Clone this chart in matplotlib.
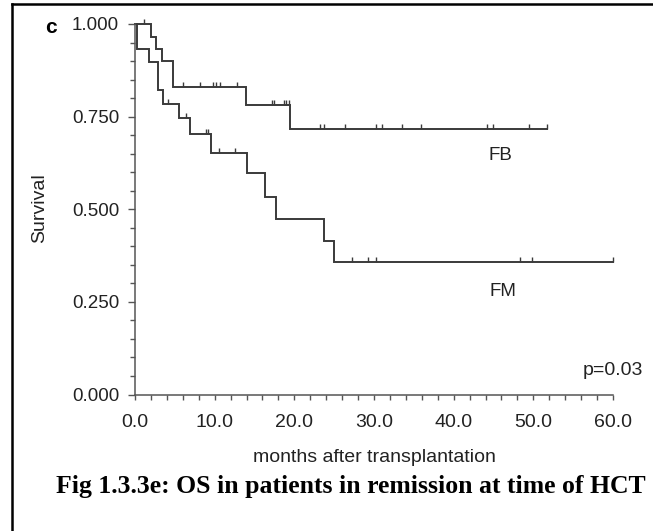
import numpy as np
import matplotlib
matplotlib.use("Agg")
import matplotlib.pyplot as plt
from matplotlib.lines import Line2D
from matplotlib.ticker import MultipleLocator, FixedLocator

# Kaplan-Meier step data: time of each drop (months) and survival after it
fb_times = [1.97, 2.64, 3.36, 4.74, 13.92, 19.41]
fb_surv = [0.964, 0.932, 0.900, 0.831, 0.781, 0.716]
fb_end = 51.7
fb_censored = [1.13, 6.08, 8.18, 9.85, 10.19, 10.69, 12.79, 17.17, 17.42,
               18.65, 18.99, 19.28, 23.18, 23.71, 26.33, 30.19, 31.03, 33.55,
               35.85, 44.24, 44.99, 49.47, 51.7]

fm_times = [0.31, 1.80, 2.93, 3.56, 5.57, 6.92, 9.52, 14.05, 16.26, 17.65,
            23.77, 24.94]
fm_surv = [0.932, 0.898, 0.822, 0.784, 0.745, 0.702, 0.653, 0.597, 0.534,
           0.474, 0.415, 0.358]
fm_end = 60.0
fm_censored = [4.19, 6.35, 8.93, 9.22, 10.6, 12.49, 27.26, 29.22, 30.19,
               48.34, 49.81, 60.0]

x_ticks = [0, 10, 20, 30, 40, 50, 60]
x_ticklabels = ["0.0", "10.0", "20.0", "30.0", "40.0", "50.0", "60.0"]
y_ticks = [0.0, 0.25, 0.5, 0.75, 1.0]
y_ticklabels = ["0.000", "0.250", "0.500", "0.750", "1.000"]

W, H = 653, 531
fig = plt.figure(figsize=(W / 100, H / 100), dpi=100)
fig.patch.set_facecolor("white")

sans = ["Liberation Sans", "DejaVu Sans"]
serif = ["Liberation Serif", "DejaVu Serif"]
ink = "#3a3a3a"
text_col = "#222222"


def px_axes(x0, y0, x1, y1):
    return [x0 / W, 1 - y1 / H, (x1 - x0) / W, (y1 - y0) / H]


ax = fig.add_axes(px_axes(135, 24, 613, 394.5))
ax.set_xlim(0, 60)
ax.set_ylim(0, 1.0)
ax.set_facecolor("none")
for side in ("top", "right"):
    ax.spines[side].set_visible(False)
for side in ("left", "bottom"):
    ax.spines[side].set_color("#555555")
    ax.spines[side].set_linewidth(1.1)

ax.xaxis.set_major_locator(FixedLocator(x_ticks))
ax.set_xticklabels(x_ticklabels)
ax.xaxis.set_minor_locator(MultipleLocator(2))
ax.yaxis.set_major_locator(FixedLocator(y_ticks))
ax.set_yticklabels(y_ticklabels)
ax.yaxis.set_minor_locator(MultipleLocator(0.05))
ax.tick_params(axis="both", which="both", direction="out", color="#555555",
               width=1.0, labelcolor=text_col)
ax.tick_params(axis="x", which="both", length=3.5, pad=10.4, labelsize=14)
ax.tick_params(axis="y", which="major", length=5, pad=6.5, labelsize=13.5)
ax.tick_params(axis="y", which="minor", length=3.5)
for lab in ax.get_xticklabels() + ax.get_yticklabels():
    lab.set_family(sans)


def km_curve(times, surv, end):
    xs = [0.0] + list(times) + [end]
    ys = [1.0] + list(surv) + [surv[-1]]
    return np.array(xs), np.array(ys)


def surv_at(times, surv, t):
    idx = np.searchsorted(np.array(times), np.array(t), side="right")
    vals = np.concatenate([[1.0], surv])
    return vals[idx]


tick_marker = [(0, 0), (0, 1)]
for times, surv, end, cens in ((fb_times, fb_surv, fb_end, fb_censored),
                               (fm_times, fm_surv, fm_end, fm_censored)):
    xs, ys = km_curve(times, surv, end)
    ax.step(xs, ys, where="post", color=ink, lw=1.4, solid_joinstyle="miter",
            clip_on=False)
    ax.plot(cens, surv_at(times, surv, cens), linestyle="none",
            marker=tick_marker, markersize=7, markeredgewidth=1.0,
            color=ink, clip_on=False)

ax.text(45.9, 0.646, "FB", fontsize=13.5, family=sans, color=text_col,
        ha="center", va="center")
ax.text(46.2, 0.279, "FM", fontsize=13.5, family=sans, color=text_col,
        ha="center", va="center")
ax.text(60.0, 0.066, "p=0.03", fontsize=14, family=sans, color=text_col,
        ha="center", va="center", clip_on=False)

ax.set_ylabel("Survival", fontsize=14, family=sans, color=text_col)
ax.yaxis.set_label_coords(-0.182, 0.503)
ax.set_xlabel("months after transplantation", fontsize=14, family=sans,
              color=text_col, labelpad=13)

fig.text(51 / W, 1 - 27.5 / H, "c", fontsize=15, fontweight="bold",
         family=sans, ha="center", va="center")

fig.text(351 / W, 1 - 486 / H,
         "Fig 1.3.3e: OS in patients in remission at time of HCT",
         fontsize=18.5, fontweight="bold", family=serif, ha="center",
         va="center")

# frame edges (left and top) around the figure panel
fig.add_artist(Line2D([12.2 / W, 12.2 / W], [0, 1 - 4.3 / H],
                      transform=fig.transFigure, color="black", lw=1.8,
                      solid_capstyle="projecting"))
fig.add_artist(Line2D([12.2 / W, 1], [1 - 4.3 / H, 1 - 4.3 / H],
                      transform=fig.transFigure, color="black", lw=1.8,
                      solid_capstyle="projecting"))

fig.savefig("out.png", dpi=100)
